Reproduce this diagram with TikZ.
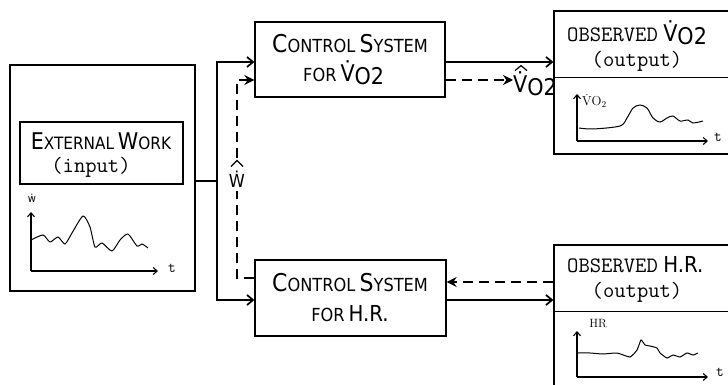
\documentclass[tikz,border=0pt]{standalone}
\usepackage{fontspec}
\setsansfont{DejaVu Sans Condensed}
\usetikzlibrary{arrows.meta,calc}
\newcommand{\fsc}[2]{{\fontsize{24.5}{24.5}\selectfont #1}{\fontsize{18}{18}\selectfont #2}}
\newcommand{\fscb}[2]{{\fontsize{23}{23}\selectfont #1}{\fontsize{17}{17}\selectfont #2}}
\tikzset{
  box/.style={draw, line width=1.3pt, inner sep=0pt},
  conn/.style={line width=1.7pt, -{Straight Barb[length=6pt,width=10pt,line width=1.7pt]}},
  dconn/.style={line width=1.8pt, dash pattern=on 10pt off 6pt, -{Stealth[length=10pt,width=10pt]}},
  dline/.style={line width=1.8pt, dash pattern=on 10pt off 6pt},
  hatline/.style={line width=1.2pt, line join=miter},
  axis/.style={line width=1.1pt, -{Straight Barb[length=4pt,width=7pt]}},
  curve/.style={line width=1pt},
  ttl/.style={font=\sffamily, inner sep=0pt},
  mono/.style={font=\ttfamily\fontsize{22}{22}\selectfont, inner sep=0pt},
}
\begin{document}
\begin{tikzpicture}[x=1pt,y=-1pt]
\clip (0,0) rectangle (728,385);
\fill[white] (0,0) rectangle (728,385);
% boxes
\node[box, minimum width=185pt, minimum height=226pt] (ext) at (102.5,178) {};
\node[box, minimum width=163pt, minimum height=62pt] (inbox) at (101.5,153) {};
\node[box, minimum width=190pt, minimum height=75pt] (ctrlV) at (350,59.5) {};
\node[box, minimum width=191pt, minimum height=76pt] (ctrlH) at (350.5,298) {};
\node[box, minimum width=190pt, minimum height=143pt] (obsV) at (649,82.5) {};
\node[box, minimum width=190pt, minimum height=160pt] (obsH) at (649,325) {};
\draw[line width=1pt] (obsV.west |- 0,78) -- (obsV.east |- 0,78);
\draw[line width=1pt] (obsH.west |- 0,311) -- (obsH.east |- 0,311);
% texts
\node[ttl] (extT) at (101,141) {\fscb{E}{XTERNAL}\hspace{0.1em} \fscb{W}{ORK}};
\node[mono] (extI) at (91,167) {(input)};
\node[ttl] (cvT) at (350,44) {\fsc{C}{ONTROL}\hspace{0.15em} \fsc{S}{YSTEM}};
\node[ttl, anchor=base west] (cvF) at (303,82) {{\fontsize{18}{18}\selectfont FOR}\hspace{0.4em}{\fontsize{23}{23}\selectfont\.{V}\raisebox{-3pt}{O2}}};
\node[ttl] (chT) at (350,283) {\fsc{C}{ONTROL}\hspace{0.15em} \fsc{S}{YSTEM}};
\node[ttl, anchor=base] (chF) at (350,321) {{\fontsize{18}{18}\selectfont FOR}\hspace{0.4em}{\fontsize{22}{22}\selectfont H.R.}};
\node[mono, anchor=base west] (ovT) at (567,42) {OBSERVED\hspace{0.25em}{\sffamily\fontsize{23}{23}\selectfont\.{V}\raisebox{-3pt}{O2}}};
\node[mono] (ovO) at (637,61) {(output)};
\node[mono, anchor=base west] (ohT) at (567,272) {OBSERVED\hspace{0.25em}{\sffamily\fontsize{22}{22}\selectfont H.R.}};
\node[mono] (ohO) at (637,292) {(output)};
% junction and connectors
\coordinate (J) at (217,181);
\draw[line width=1.7pt] (ext.east |- J) -- (J);
\draw[conn] (J) |- (ctrlV.west |- 0,62);
\draw[conn] (J) |- (ctrlH.west |- 0,300);
% W-hat label
\node[inner sep=1pt, font=\sffamily\fontsize{18}{18}\selectfont] (what) at (237,179) {\.{W}};
\coordinate (whtop) at ($(what.north)+(0,-12)$);
\draw[hatline] ($(what.north)+(-6,-3)$) -- ($(what.north)+(0,-9)$) -- ($(what.north)+(6,-3)$);
\draw[dline] (ctrlH.west |- 0,278) -| ($(what.south)+(0,3)$);
\draw[dconn] (whtop) |- (ctrlV.west |- 0,80);
\draw[conn] (ctrlV.east |- 0,62) -- (obsV.west |- 0,62);
% V-hat label
\node[ttl, anchor=west, font=\sffamily\fontsize{23}{23}\selectfont] (vhat) at (513,84) {\.{V}\raisebox{-3pt}{O2}};
\draw[hatline] ($(vhat.north west)+(2,-1)$) -- ($(vhat.north west)+(8,-6)$) -- ($(vhat.north west)+(14,-1)$);
\draw[dconn] (ctrlV.east |- 0,80) -- (vhat.west |- 0,80);
\draw[dconn] (obsH.west |- 0,282) -- (ctrlH.east |- 0,282);
\draw[conn] (ctrlH.east |- 0,300) -- (obsH.west |- 0,300);
% input plot
\draw[axis] (31,271) -- (31,212);
\draw[axis] (31,271) -- (158,271);
\node[font=\ttfamily\fontsize{15}{15}\selectfont, inner sep=0pt] (tin) at (172,268) {t};
\node[font=\sffamily\fontsize{11}{11}\selectfont, inner sep=0pt] (win) at (32,198) {\.{w}};
\draw[curve] plot[smooth, tension=0.4] coordinates {(31,240) (43,235) (50,242) (58,237) (65,244) (72,233) (83,216) (90,227) (95,247) (102,243) (112,251) (120,240) (128,234) (137,246) (142,244) (148,248)};
% VO2 plot
\draw[axis] (577,141) -- (577,94);
\draw[axis] (577,141) -- (708,141);
\node[font=\ttfamily\fontsize{15}{15}\selectfont, inner sep=0pt] (tv) at (718,137) {t};
\node[font=\fontsize{13}{13}\selectfont, inner sep=0pt, anchor=west] (vl) at (582,101) {$\dot{\mathrm{V}}$O$_2$};
\draw[curve] plot[smooth, tension=0.5] coordinates {(579,128) (593,129) (620,126) (627,118) (633,108) (640,105) (647,108) (653,118) (660,122) (667,118) (673,116) (680,121) (688,120) (693,123) (703,121)};
% HR plot
\draw[axis] (577,377) -- (577,331);
\draw[axis] (577,377) -- (708,377);
\node[font=\ttfamily\fontsize{15}{15}\selectfont, inner sep=0pt] (th) at (720,372) {t};
\node[font=\fontsize{12}{12}\selectfont, inner sep=0pt] (hl) at (598,324) {HR};
\draw[curve] plot[smooth, tension=0.3] coordinates {(578,353) (590,353) (603,354) (617,353) (630,357) (637,350) (641,340) (645,345) (650,346) (657,348) (660,353) (667,358) (673,355) (680,357) (687,353) (693,355) (698,353)};
\end{tikzpicture}
\end{document}
